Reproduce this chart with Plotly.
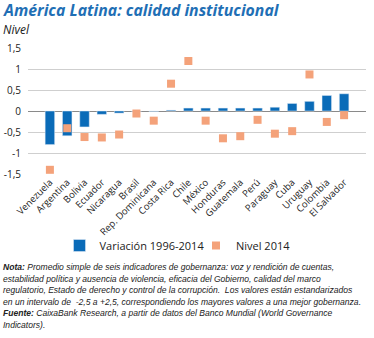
import plotly.graph_objects as go

countries = ["Venezuela", "Argentina", "Bolivia", "Ecuador", "Nicaragua", "Brasil",
             "Rep. Dominicana", "Costa Rica", "Chile", "México", "Honduras", "Guatemala",
             "Perú", "Paraguay", "Cuba", "Uruguay", "Colombia", "El Salvador"]
variacion = [-0.80, -0.59, -0.38, -0.08, -0.05, -0.01, -0.01, 0.02, 0.07, 0.07, 0.07,
             0.07, 0.07, 0.09, 0.18, 0.23, 0.37, 0.41]
nivel = [-1.40, -0.41, -0.62, -0.63, -0.56, -0.06, -0.23, 0.65, 1.19, -0.23, -0.65,
         -0.60, -0.21, -0.54, -0.48, 0.87, -0.26, -0.10]
ytickvals = [1.5, 1, 0.5, 0, -0.5, -1, -1.5]
yticktext = ["1,5", "1", "0,5", "0", "-0,5", "-1", "-1,5"]
note_lines = [
    "<b>Nota:</b> Promedio simple de seis indicadores de gobernanza: voz y rendición de cuentas,",
    "estabilidad política y ausencia de violencia, eficacia del Gobierno, calidad del marco",
    "regulatorio, Estado de derecho y control de la corrupción.  Los valores están estandarizados",
    "en un intervalo de  -2,5 a +2,5, correspondiendo los mayores valores a una mejor gobernanza.",
    "<b>Fuente:</b> CaixaBank Research, a partir de datos del Banco Mundial (World Governance",
    "Indicators).",
]

FONT = "Open Sans"
BLUE = "#0A6BB8"
ORANGE = "#F4A27A"
W, H = 374, 338
ML, MR, MT, MB = 28, 8, 48, 164
PH = H - MT - MB


def py(px):
    return (H - MB - px) / PH


fig = go.Figure()
fig.add_trace(go.Bar(x=countries, y=variacion, name="Variación 1996-2014",
                     marker=dict(color=BLUE), width=0.55, legend="legend"))
fig.add_trace(go.Scatter(x=countries, y=nivel, name="Nivel 2014", mode="markers",
                         marker=dict(symbol="square", size=8, color=ORANGE),
                         legend="legend2"))

leg_common = dict(yref="container", xref="container", yanchor="middle", xanchor="left",
                  font=dict(size=11, color="#222"), bgcolor="rgba(0,0,0,0)", itemwidth=30)
fig.update_layout(
    width=W, height=H,
    margin=dict(l=ML, r=MR, t=MT, b=MB, autoexpand=False),
    paper_bgcolor="white", plot_bgcolor="white",
    font=dict(family=FONT, size=10, color="#222"),
    showlegend=True,
    legend=dict(x=59.5 / W, y=1 - 245.5 / H, **leg_common),
    legend2=dict(x=196 / W, y=1 - 245.5 / H, **leg_common),
)
fig.update_xaxes(tickangle=-45, tickfont=dict(size=9.5, color="#222"), automargin=False,
                 showgrid=False, showline=False, ticks="", fixedrange=True)
fig.update_yaxes(range=[-1.5, 1.5], tickvals=ytickvals, ticktext=yticktext, automargin=False,
                 showgrid=True, gridcolor="#CFCFCF", gridwidth=1,
                 zeroline=True, zerolinecolor="#8A8A8A", zerolinewidth=1.2,
                 tickfont=dict(size=10, color="#222"), ticks="", ticklabelstandoff=6)

fig.add_annotation(text="<b><i>América Latina: calidad institucional</i></b>",
                   xref="paper", yref="paper", x=(1 - ML) / (W - ML - MR), y=py(10),
                   xanchor="left", yanchor="middle",
                   showarrow=False, font=dict(family=FONT, size=15.8, color="#1F6FB5"))
fig.add_annotation(text="<i>Nivel</i>",
                   xref="paper", yref="paper", x=(1 - ML) / (W - ML - MR), y=py(29),
                   xanchor="left", yanchor="middle",
                   showarrow=False, font=dict(family=FONT, size=12, color="#222"))

for i, line in enumerate(note_lines):
    fig.add_annotation(text="<i>" + line + "</i>", xref="paper", yref="paper",
                       x=(1 - ML) / (W - ML - MR), y=py(267 + i * 11.6),
                       xanchor="left", yanchor="middle", align="left", showarrow=False,
                       font=dict(family="Liberation Sans", size=8.55, color="#222"))

fig.write_html("out.html")
